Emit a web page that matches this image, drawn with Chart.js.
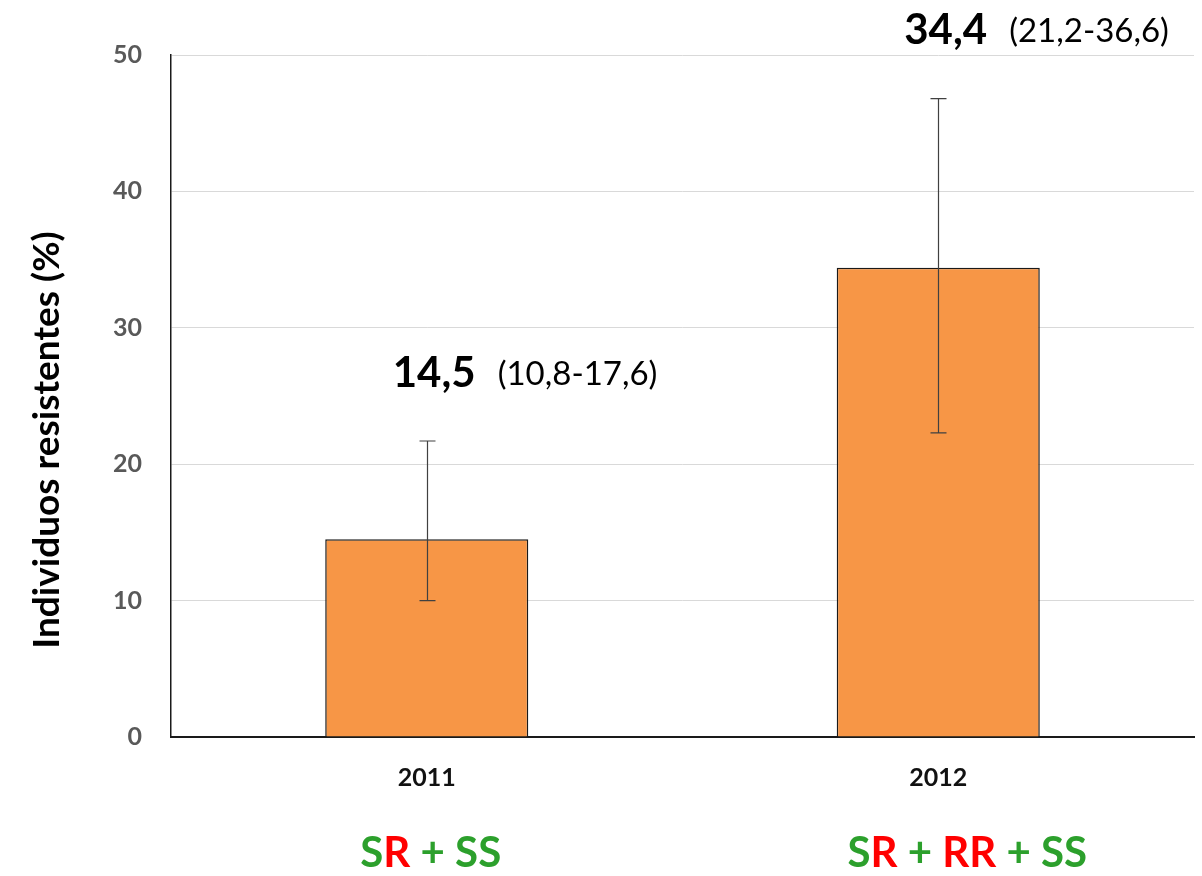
<!DOCTYPE html>
<html>
<head>
<meta charset="utf-8">
<script src="https://cdn.jsdelivr.net/npm/chart.js@4.4.1/dist/chart.umd.min.js"></script>
<style>
  html, body { margin: 0; padding: 0; background: #ffffff; }
  #wrap { width: 1202px; height: 876px; position: relative; }
</style>
</head>
<body>
<div id="wrap"><canvas id="chart"></canvas></div>
<script>
// Years sampled
const years = ['2011', '2012'];
// Resistant individuals (%)
const resistant = [14.5, 34.4];
// Confidence interval text shown beside each value
const intervals = ['(10,8-17,6)', '(21,2-36,6)'];
// Whisker ends (%)
const whiskerLow = [10.0, 22.3];
const whiskerHigh = [21.7, 46.8];
// Genotype groups present each year: [text, allele kind]
const genotypes = [
  [['S', 'S'], ['R', 'R'], [' + SS', 'S']],
  [['S', 'S'], ['R', 'R'], [' + ', 'S'], ['RR', 'R'], [' + SS', 'S']]
];
const yTicks = [0, 10, 20, 30, 40, 50];
const yTitle = 'Individuos resistentes (%)';

const FONT = 'Lato, "Open Sans", "Liberation Sans", sans-serif';
const alleleColor = { S: '#2ca02c', R: '#ff0000' };

const fmt = v => v.toFixed(1).replace('.', ',');

// Axis title, whiskers, value labels and genotype captions
const overlay = {
  id: 'overlay',
  afterDatasetsDraw(chart) {
    const ctx = chart.ctx;
    const x = chart.scales.x, y = chart.scales.y;
    ctx.save();
    // vertical axis title, set a little below the plot's midline
    ctx.save();
    ctx.translate(47, 440);
    ctx.rotate(-Math.PI / 2);
    ctx.textAlign = 'center';
    ctx.textBaseline = 'middle';
    ctx.font = 'bold 37px ' + FONT;
    ctx.fillStyle = '#000000';
    ctx.fillText(yTitle, 0, 0);
    ctx.restore();
    // whiskers
    ctx.strokeStyle = '#404040';
    ctx.lineWidth = 1.2;
    years.forEach((_, i) => {
      const cx = Math.round(x.getPixelForValue(i)) + 0.5;
      const yl = y.getPixelForValue(whiskerLow[i]);
      const yh = y.getPixelForValue(whiskerHigh[i]);
      ctx.beginPath();
      ctx.moveTo(cx, yl); ctx.lineTo(cx, yh);
      ctx.moveTo(cx - 8, yl); ctx.lineTo(cx + 8, yl);
      ctx.moveTo(cx - 8, yh); ctx.lineTo(cx + 8, yh);
      ctx.stroke();
    });
    // value + interval labels
    ctx.textBaseline = 'middle';
    ctx.textAlign = 'left';
    years.forEach((_, i) => {
      const cx = x.getPixelForValue(i);
      const ty = y.getPixelForValue(whiskerHigh[i]) - 68;
      const lx = cx - 34;
      ctx.font = 'bold 42px ' + FONT;
      ctx.fillStyle = '#000000';
      const t = fmt(resistant[i]);
      ctx.fillText(t, lx, ty);
      const w = ctx.measureText(t).width;
      ctx.font = '33px ' + FONT;
      ctx.fillText(intervals[i], lx + w + 22, ty + 1);
    });
    // genotype captions
    const shift = [4, 29];
    ctx.font = 'bold 42px ' + FONT;
    years.forEach((_, i) => {
      const parts = genotypes[i];
      const total = parts.reduce((s, p) => s + ctx.measureText(p[0]).width, 0);
      let px = x.getPixelForValue(i) + shift[i] - total / 2;
      parts.forEach(p => {
        ctx.fillStyle = alleleColor[p[1]];
        ctx.fillText(p[0], px, 853);
        px += ctx.measureText(p[0]).width;
      });
    });
    ctx.restore();
  }
};

new Chart(document.getElementById('chart'), {
  type: 'bar',
  data: {
    labels: years,
    datasets: [{
      data: resistant,
      backgroundColor: '#f79646',
      borderColor: '#1a1a1a',
      borderWidth: 1.5,
      borderSkipped: 'bottom',
      barPercentage: 0.397,
      categoryPercentage: 1.0
    }]
  },
  options: {
    responsive: true,
    maintainAspectRatio: false,
    animation: false,
    layout: { padding: { left: 0, top: 55, right: 8, bottom: 0 } },
    plugins: { legend: { display: false }, tooltip: { enabled: false } },
    scales: {
      x: {
        grid: { display: false, drawTicks: false },
        border: { color: '#1a1a1a', width: 2 },
        ticks: { color: '#111111', font: { family: FONT, size: 25, weight: 'bold' }, padding: 26 },
        afterFit(s) { s.height = 139; }
      },
      y: {
        min: 0, max: 50,
        afterBuildTicks(s) { s.ticks = yTicks.map(v => ({ value: v })); },
        grid: { color: '#d9d9d9', lineWidth: 1, drawTicks: false },
        border: { color: '#1a1a1a', width: 1.5 },
        ticks: { color: '#595959', font: { family: FONT, size: 25, weight: 'bold' }, padding: 29 },
        afterFit(s) { s.width = 171; }
      }
    }
  },
  plugins: [overlay]
});
</script>
</body>
</html>
